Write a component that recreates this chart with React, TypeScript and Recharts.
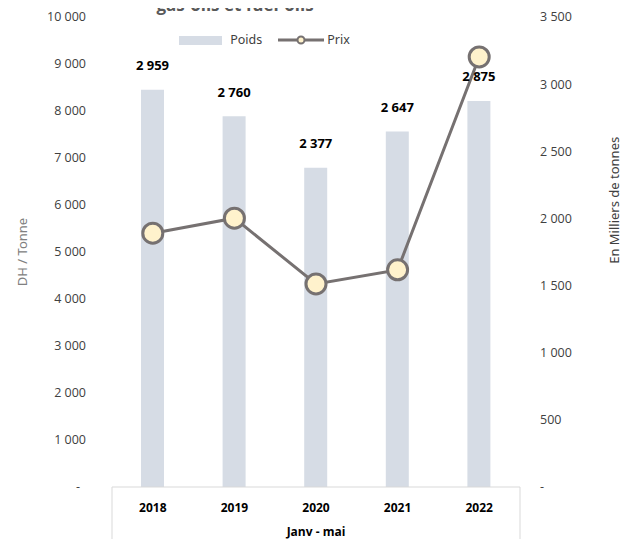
import React from "react";
import { ComposedChart, Bar, Line, XAxis, YAxis, LabelList } from "recharts";

// Janv - mai, 2018..2022
const years = ["2018", "2019", "2020", "2021", "2022"];
const poids = [2959, 2760, 2377, 2647, 2875]; // milliers de tonnes (axe droit)
const prix = [5400, 5720, 4320, 4620, 9150]; // DH / tonne (axe gauche)

const leftTicks = [0, 1000, 2000, 3000, 4000, 5000, 6000, 7000, 8000, 9000, 10000];
const rightTicks = [0, 500, 1000, 1500, 2000, 2500, 3000, 3500];

const data = years.map((y, i) => ({ year: y, poids: poids[i], prix: prix[i] }));

const W = 633;
const H = 547;
const LEFT_W = 112;
const RIGHT_W = 113;
const XAXIS_H = 60;
const BAND = (W - LEFT_W - RIGHT_W) / years.length;

const FONT = "'Open Sans', 'Noto Sans', sans-serif";
const LABEL_FONT = "'Noto Sans', 'Open Sans', sans-serif";

const fmt = (v: number) => (v === 0 ? "-" : String(v).replace(/\B(?=(\d{3})+(?!\d))/g, " "));

const LeftTick = (props: any) => {
  const { x, y, payload } = props;
  const zero = payload.value === 0;
  return (
    <text x={zero ? x - 6 : x} y={y} dy="0.35em" textAnchor="end" fontSize={12.5} fill="#404040" fontFamily={FONT}>
      {fmt(payload.value)}
    </text>
  );
};

const RightTick = (props: any) => {
  const { x, y, payload } = props;
  return (
    <text x={x} y={y} dy="0.35em" textAnchor="start" fontSize={12.5} fill="#404040" fontFamily={FONT}>
      {fmt(payload.value)}
    </text>
  );
};

const YearTick = (props: any) => {
  const { x, y, payload, index } = props;
  const last = index === years.length - 1;
  return (
    <g>
      {index === 0 && <line x1={x - BAND / 2} x2={x - BAND / 2} y1={y} y2={y + XAXIS_H} stroke="#d9d9d9" />}
      {last && <line x1={x + BAND / 2} x2={x + BAND / 2} y1={y} y2={y + XAXIS_H} stroke="#d9d9d9" />}
      <text x={x} y={y + 21} dy="0.35em" textAnchor="middle" fontSize={12} fontWeight="bold" fill="#000" fontFamily={FONT}>
        {payload.value}
      </text>
    </g>
  );
};

const XTitle = (props: any) => {
  const { viewBox } = props;
  return (
    <text x={viewBox.x + viewBox.width / 2} y={viewBox.y + 45} dy="0.35em" textAnchor="middle" fontSize={12} fontWeight="bold" fill="#000" fontFamily={FONT}>
      Janv - mai
    </text>
  );
};

const RightAxisTitle = (props: any) => {
  const { viewBox } = props;
  const cx = viewBox.x + viewBox.width - 19;
  const cy = viewBox.y + viewBox.height * 0.39;
  return (
    <text x={cx} y={cy} transform={`rotate(-90 ${cx} ${cy})`} textAnchor="middle" dy="0.35em" fontSize={13} fill="#404040" fontFamily={LABEL_FONT}>
      En Milliers de tonnes
    </text>
  );
};

const BarValue = (props: any) => {
  const { x, y, width, value } = props;
  return (
    <text x={x + width / 2} y={y - 24} dy="0.35em" textAnchor="middle" fontSize={13} fontWeight="bold" fill="#000" fontFamily={FONT}>
      {fmt(Number(value))}
    </text>
  );
};

const LegendBox = () => (
  <div
    style={{
      position: "absolute",
      top: 32,
      left: 2,
      width: 525,
      display: "flex",
      justifyContent: "center",
      alignItems: "center",
      fontFamily: LABEL_FONT,
      fontSize: 12.5,
      color: "#404040",
      lineHeight: "16px",
    }}
  >
    <span style={{ display: "inline-block", width: 43, height: 9, background: "#D6DCE5", marginRight: 8 }} />
    <span style={{ marginRight: 16 }}>Poids</span>
    <svg width={46} height={12} style={{ marginRight: 3 }}>
      <line x1={0} x2={46} y1={6} y2={6} stroke="#767171" strokeWidth={3} />
      <circle cx={23} cy={6} r={3.5} fill="#FFF2CC" stroke="#767171" strokeWidth={2} />
    </svg>
    <span>Prix</span>
  </div>
);

export default function App() {
  return (
    <div style={{ position: "relative", width: W, height: H, margin: -8, overflow: "hidden", background: "#fff" }}>
      <div
        style={{
          position: "absolute",
          top: -7,
          left: 0,
          width: 470,
          textAlign: "center",
          fontFamily: FONT,
          fontWeight: "bold",
          fontSize: 17,
          color: "#595959",
          lineHeight: "24px",
        }}
      >
        gas-oils et fuel-oils
      </div>
      <ComposedChart width={W} height={H} data={data} margin={{ top: 17, right: 0, bottom: 0, left: 0 }}>
        <XAxis
          dataKey="year"
          height={XAXIS_H}
          tickSize={0}
          tickMargin={0}
          tickLine={false}
          axisLine={{ stroke: "#d9d9d9" }}
          tick={<YearTick />}
          interval={0}
          label={<XTitle />}
        />
        <YAxis
          yAxisId="left"
          orientation="left"
          width={LEFT_W}
          domain={[0, 10000]}
          ticks={leftTicks}
          interval={0}
          tickSize={0}
          tickMargin={26}
          axisLine={false}
          tickLine={false}
          tick={<LeftTick />}
          label={{ value: "DH / Tonne", angle: -90, position: "insideLeft", offset: 22, style: { textAnchor: "middle" }, fontSize: 13, fill: "#808080", fontFamily: LABEL_FONT }}
        />
        <YAxis
          yAxisId="right"
          orientation="right"
          width={RIGHT_W}
          domain={[0, 3500]}
          ticks={rightTicks}
          interval={0}
          tickSize={0}
          tickMargin={20}
          axisLine={false}
          tickLine={false}
          tick={<RightTick />}
          label={<RightAxisTitle />}
        />
        <Bar yAxisId="right" dataKey="poids" name="Poids" fill="#D6DCE5" barSize={23} isAnimationActive={false}>
          <LabelList dataKey="poids" content={<BarValue />} />
        </Bar>
        <Line
          yAxisId="left"
          type="linear"
          dataKey="prix"
          name="Prix"
          stroke="#767171"
          strokeWidth={3}
          dot={{ r: 10, fill: "#FFF2CC", stroke: "#767171", strokeWidth: 3 }}
          activeDot={false}
          isAnimationActive={false}
        />
      </ComposedChart>
      <LegendBox />
    </div>
  );
}
